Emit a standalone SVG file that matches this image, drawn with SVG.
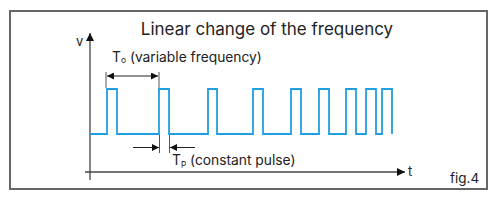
<svg xmlns="http://www.w3.org/2000/svg" width="500" height="200" viewBox="0 0 500 200">
<style>
text{font-family:"Inter","Liberation Sans",sans-serif;fill:#222}
.ax{stroke:#444;stroke-width:1.3;fill:none}
.dim{stroke:#222;stroke-width:1;fill:none}
.ext{stroke:#555;stroke-width:1;fill:none}
.sig{stroke:#1f9fdf;stroke-width:1.8;fill:none;stroke-linejoin:miter}
.lbl{font-size:13.8px}
</style>
<defs>
<marker id="ah" viewBox="0 0 10 10" refX="10" refY="5" markerWidth="7" markerHeight="7" markerUnits="userSpaceOnUse" orient="auto-start-reverse">
<path d="M0,0 L10,5 L0,10 z" fill="#111"/>
</marker>
<marker id="axh" viewBox="0 0 10 10" refX="10" refY="5" markerWidth="8" markerHeight="8" markerUnits="userSpaceOnUse" orient="auto">
<path d="M0,0 L10,5 L0,10 z" fill="#111"/>
</marker>
</defs>
<rect id="frame" x="10" y="11" width="477" height="178" fill="#fff" stroke="#666" stroke-width="2"/>
<text id="title" x="267" y="35" font-size="17" text-anchor="middle">Linear change of the frequency</text>
<g id="axes">
<line class="ax" x1="90" y1="180" x2="90" y2="33" marker-end="url(#axh)"/>
<line class="ax" x1="85" y1="172" x2="405" y2="172" marker-end="url(#axh)"/>
<text x="76" y="46" font-size="13">v</text>
<text x="408" y="176" font-size="13">t</text>
</g>
<g id="signal">
<path class="sig" d="M90,134 H107 V89 H117 V134 H159 V89 H169 V134 H208 V89 H217 V134 H253 V89 H263 V134 H291 V89 H301 V134 H319 V89 H329 V134 H346 V89 H356 V134 H366 V89 H376 V134 H382 V89 H392 V134"/>
</g>
<g id="connectors">
<line class="ext" x1="106" y1="72" x2="106" y2="88"/>
<line class="ext" x1="159" y1="72" x2="159" y2="88"/>
<line class="dim" x1="107" y1="76" x2="158" y2="76" marker-start="url(#ah)" marker-end="url(#ah)"/>
<line class="ext" x1="159.5" y1="135" x2="159.5" y2="153"/>
<line class="ext" x1="169.5" y1="135" x2="169.5" y2="153"/>
<line class="dim" x1="133" y1="147.5" x2="159" y2="147.5" marker-end="url(#ah)"/>
<line class="dim" x1="195" y1="147.5" x2="170" y2="147.5" marker-end="url(#ah)"/>
</g>
<g id="label-To">
<text class="lbl" x="112" y="62">T<tspan font-size="8.5" dy="1">o</tspan><tspan dy="-1"> (variable frequency)</tspan></text>
</g>
<g id="label-Tp">
<text class="lbl" x="172" y="165">T<tspan font-size="8.5" dy="1">p</tspan><tspan dy="-1"> (constant pulse)</tspan></text>
</g>
<text id="fig" x="450" y="183" font-size="13.5">fig.4</text>
</svg>
